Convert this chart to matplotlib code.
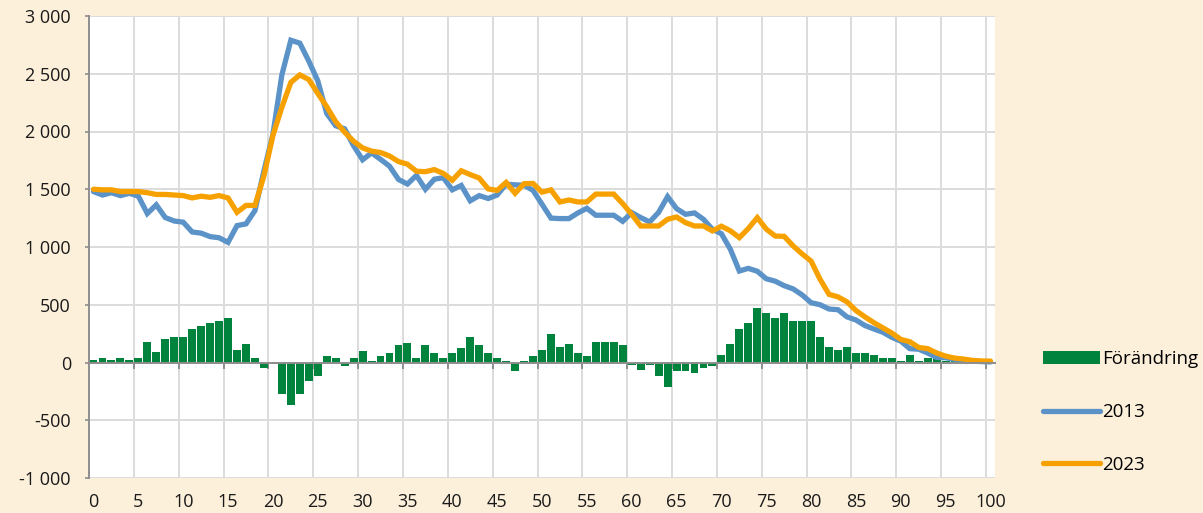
import matplotlib
matplotlib.use("Agg")
import matplotlib.pyplot as plt
from matplotlib.patches import Patch
from matplotlib.lines import Line2D
import numpy as np

plt.rcParams['font.family'] = ['Open Sans', 'DejaVu Sans']

ages = list(range(0, 101))

y2013 = [1480, 1450, 1470, 1445, 1465, 1440, 1290, 1365, 1255, 1225,
         1215, 1130, 1120, 1090, 1080, 1040, 1185, 1200, 1315, 1660,
         1975, 2490, 2790, 2765, 2610, 2440, 2156, 2050, 2023, 1876,
         1755, 1815, 1759, 1700, 1585, 1545, 1620, 1500, 1587, 1600,
         1495, 1533, 1400, 1445, 1420, 1450, 1544, 1538, 1535, 1490,
         1370, 1250, 1246, 1246, 1295, 1335, 1275, 1275, 1275, 1222,
         1298, 1255, 1217, 1300, 1436, 1332, 1283, 1295, 1240, 1153,
         1115, 980, 792, 815, 790, 725, 704, 665, 637, 585,
         518, 500, 463, 457, 395, 368, 320, 290, 262, 218,
         185, 120, 115, 82, 44, 41, 28, 20, 12, 8, 5]

y2023 = [1500, 1495, 1495, 1480, 1480, 1480, 1470, 1455, 1455, 1450,
         1445, 1425, 1440, 1430, 1445, 1425, 1300, 1360, 1360, 1615,
         1965, 2210, 2425, 2490, 2450, 2330, 2215, 2085, 1994, 1915,
         1858, 1830, 1818, 1788, 1740, 1717, 1656, 1652, 1670, 1637,
         1578, 1660, 1627, 1597, 1503, 1490, 1559, 1465, 1548, 1550,
         1475, 1495, 1390, 1407, 1390, 1390, 1458, 1458, 1458, 1375,
         1283, 1182, 1182, 1182, 1240, 1260, 1211, 1182, 1182, 1139,
         1180, 1140, 1081, 1160, 1254, 1155, 1095, 1092, 1009, 940,
         878, 720, 590, 568, 525, 450, 395, 345, 300, 255,
         200, 180, 130, 120, 82, 55, 38, 30, 18, 13, 12]

forandring = [20, 40, 20, 40, 20, 40, 178, 89, 200, 224,
              224, 293, 319, 339, 362, 385, 109, 158, 40, -46,
              -12, -276, -365, -276, -161, -115, 60, 37, -29, 37,
              103, 14, 60, 83, 155, 172, 37, 152, 83, 37,
              83, 129, 221, 152, 83, 37, 14, -75, 14, 60,
              106, 246, 135, 158, 84, 55, 178, 178, 178, 153,
              -20, -65, -25, -115, -208, -72, -72, -95, -50, -28,
              64, 156, 289, 345, 470, 430, 387, 430, 361, 361,
              361, 222, 133, 107, 133, 84, 84, 61, 40, 40,
              14, 61, 14, 38, 38, 14, 10, 10, 6, 5, 5]

ytick_vals = list(range(-1000, 3001, 500))
xtick_vals = list(range(0, 101, 5))

BG = '#FDF0DB'
GREEN = '#00843D'
BLUE = '#5B93C9'
ORANGE = '#F7A100'
GRID = '#DCDCDC'
AXC = '#8E8E8E'

W, H = 1203, 513
fig = plt.figure(figsize=(W / 100, H / 100), dpi=100, facecolor=BG)
ax = fig.add_axes([89 / W, 1 - 478 / H, (995 - 89) / W, (478 - 16) / H])
ax.set_facecolor('white')

ax.bar(ages, forandring, width=0.88, color=GREEN, zorder=2)
ax.plot(ages, y2013, color=BLUE, lw=3.8, zorder=3, solid_capstyle='round', solid_joinstyle='miter')
ax.plot(ages, y2023, color=ORANGE, lw=3.8, zorder=4, solid_capstyle='round', solid_joinstyle='miter')

ax.set_xlim(-0.5, 100.5)
ax.set_ylim(-1000, 3000)

# y axis
ax.set_yticks(ytick_vals)
ax.set_yticklabels([f"{v:,}".replace(',', ' ') for v in ytick_vals], fontsize=13, color='#1a1a1a')
ax.tick_params(axis='y', direction='out', length=3, width=1.2, color=AXC, pad=10)
ax.yaxis.grid(True, color=GRID, lw=1.4, zorder=0)

# x axis line at zero with boundary ticks
ax.spines['bottom'].set_position(('data', 0))
ax.spines['bottom'].set_color(AXC)
ax.spines['bottom'].set_linewidth(1.4)
ax.spines['bottom'].set_zorder(5)
ax.set_xticks(xtick_vals)
ax.set_xticklabels([])
ax.tick_params(axis='x', which='major', length=0)
ax.set_xticks([v - 0.5 for v in xtick_vals[1:]], minor=True)
ax.tick_params(axis='x', which='minor', direction='out', length=4, width=1.4, color=AXC)
ax.xaxis.grid(True, which='minor', color=GRID, lw=1.4, zorder=0)
ax.set_axisbelow(True)

ax.spines['left'].set_color(AXC)
ax.spines['left'].set_linewidth(1.4)
ax.spines['top'].set_visible(False)
ax.spines['right'].set_visible(False)

sec = ax.secondary_xaxis(0)
sec.set_xticks(xtick_vals)
sec.set_xticklabels([str(v) for v in xtick_vals], fontsize=13, color='#1a1a1a')
sec.tick_params(axis='x', length=0, pad=11)
sec.spines['bottom'].set_visible(False)

handles = [Patch(facecolor=GREEN, edgecolor='none', label='Förändring'),
           Line2D([], [], color=BLUE, lw=3.8, solid_capstyle='round', label='2013'),
           Line2D([], [], color=ORANGE, lw=3.8, solid_capstyle='round', label='2023')]
fig.legend(handles=handles, loc='upper left', bbox_to_anchor=(1034 / W, 1 - 341 / H),
           frameon=False, fontsize=13.5, handlelength=3.0, handletextpad=0.15,
           labelspacing=1.85, borderpad=0)

fig.savefig('out.png', dpi=100, facecolor=BG)
